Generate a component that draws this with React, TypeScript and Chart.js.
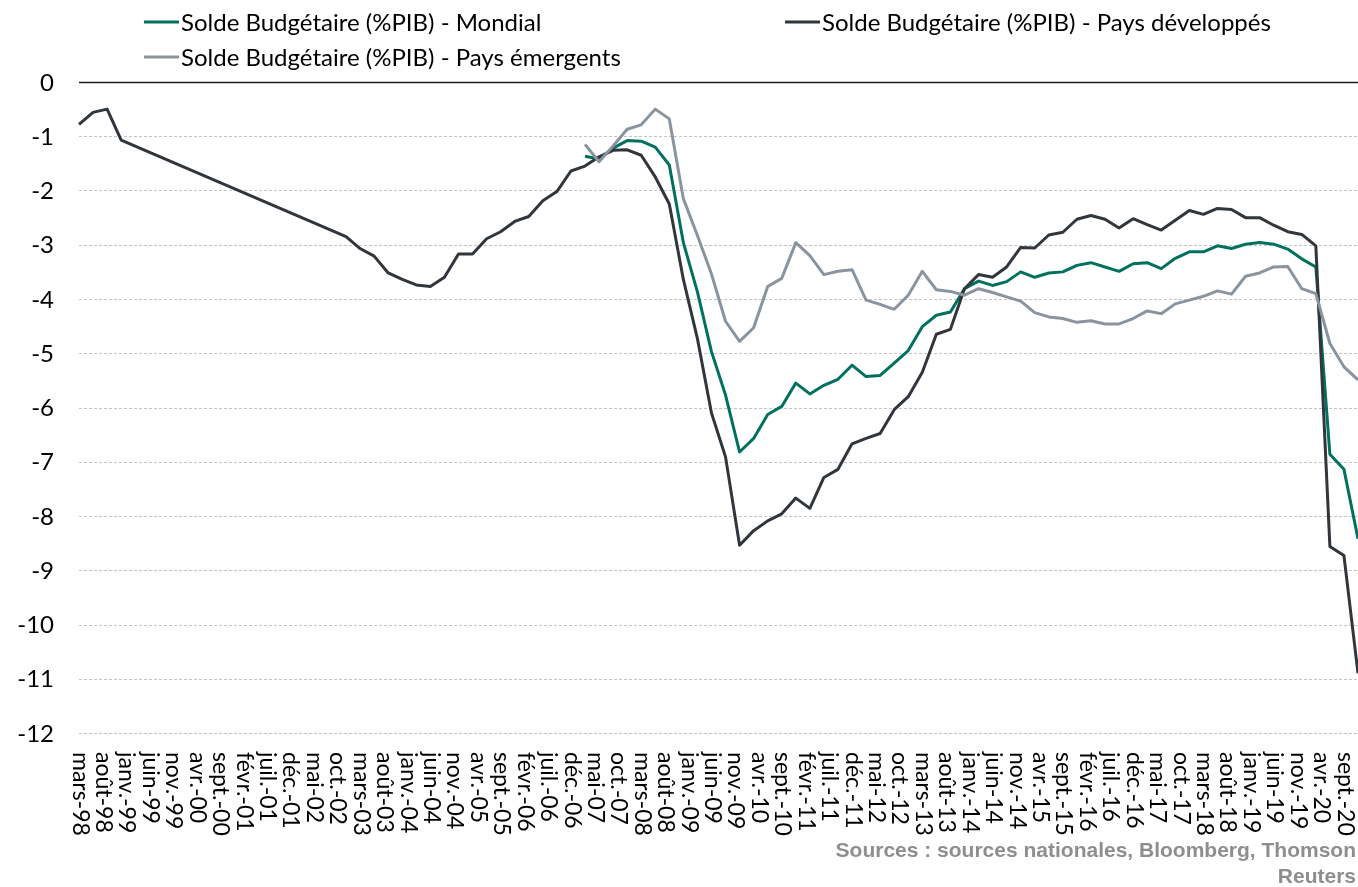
import React, { useEffect, useRef } from "react";
import { Chart, registerables } from "chart.js";

Chart.register(...registerables);

// French month abbreviations used for the monthly category axis (mars-98 .. déc.-20)
const MONTHS_FR = ["janv.", "févr.", "mars", "avr.", "mai", "juin", "juil.", "août", "sept.", "oct.", "nov.", "déc."];
const FIRST_YEAR = 1998;
const FIRST_MONTH = 2; // mars
const LAST_YEAR = 2020;
const LAST_MONTH = 11; // déc.

// Tick labels shown on the x axis (every 5 months)
const xTickLabels = [
  "mars-98", "août-98", "janv.-99", "juin-99", "nov.-99", "avr.-00", "sept.-00", "févr.-01", "juil.-01", "déc.-01",
  "mai-02", "oct.-02", "mars-03", "août-03", "janv.-04", "juin-04", "nov.-04", "avr.-05", "sept.-05", "févr.-06",
  "juil.-06", "déc.-06", "mai-07", "oct.-07", "mars-08", "août-08", "janv.-09", "juin-09", "nov.-09", "avr.-10",
  "sept.-10", "févr.-11", "juil.-11", "déc.-11", "mai-12", "oct.-12", "mars-13", "août-13", "janv.-14", "juin-14",
  "nov.-14", "avr.-15", "sept.-15", "févr.-16", "juil.-16", "déc.-16", "mai-17", "oct.-17", "mars-18", "août-18",
  "janv.-19", "juin-19", "nov.-19", "avr.-20", "sept.-20",
];

const yTicks = [0, -1, -2, -3, -4, -5, -6, -7, -8, -9, -10, -11, -12];

const seriesNames = [
  "Solde Budgétaire (%PIB) - Mondial",
  "Solde Budgétaire (%PIB) - Pays développés",
  "Solde Budgétaire (%PIB) - Pays émergents",
];
const seriesColors = ["#00705F", "#30363C", "#8A949E"];

// Quarterly values (quarter 0 = mars-98, quarter 91 = déc.-20)
const developpes: (number | null)[] = [
  -0.78, -0.56, -0.5, -1.07,
  null, null, null, null, null, null, null, null, null, null, null, null, null, null, null,
  -2.85, -3.07, -3.21, -3.52, -3.64, -3.74, -3.77, -3.6, -3.17, -3.17,
  -2.89, -2.76, -2.57, -2.48, -2.19, -2.02, -1.64, -1.55, -1.38, -1.26,
  -1.25, -1.35, -1.75, -2.25, -3.64, -4.73, -6.1, -6.91, -8.54, -8.27,
  -8.09, -7.96, -7.67, -7.86, -7.29, -7.14, -6.67, -6.57, -6.48, -6.04,
  -5.8, -5.35, -4.65, -4.56, -3.81, -3.55, -3.6, -3.41, -3.05, -3.06,
  -2.82, -2.77, -2.53, -2.46, -2.53, -2.69, -2.52, -2.63, -2.73, -2.55,
  -2.37, -2.44, -2.33, -2.35, -2.5, -2.5, -2.64, -2.76, -2.81, -3.02,
  -8.56, -8.73, -10.9,
];

// Mondial and émergents start in mars-07 (quarter 36)
const MONDIAL_START_Q = 36;
const mondial: number[] = [
  -1.37, -1.42, -1.22, -1.08, -1.09, -1.2, -1.53, -2.96, -3.87, -4.97,
  -5.77, -6.82, -6.57, -6.13, -5.98, -5.55, -5.75, -5.59, -5.48, -5.22,
  -5.43, -5.41, -5.18, -4.95, -4.51, -4.3, -4.24, -3.81, -3.67, -3.75,
  -3.68, -3.5, -3.6, -3.52, -3.5, -3.38, -3.33, -3.41, -3.49, -3.35,
  -3.33, -3.44, -3.25, -3.13, -3.13, -3.02, -3.07, -2.99, -2.96, -2.99,
  -3.08, -3.26, -3.41, -6.86, -7.14, -8.42,
];

const EMERGENTS_START_Q = 36;
const emergents: number[] = [
  -1.15, -1.47, -1.18, -0.87, -0.79, -0.5, -0.68, -2.15, -2.83, -3.54,
  -4.41, -4.78, -4.53, -3.77, -3.62, -2.96, -3.2, -3.55, -3.49, -3.46,
  -4.02, -4.1, -4.19, -3.93, -3.49, -3.83, -3.86, -3.93, -3.81, -3.88,
  -3.96, -4.04, -4.25, -4.33, -4.36, -4.43, -4.4, -4.46, -4.46, -4.36,
  -4.22, -4.27, -4.09, -4.02, -3.95, -3.85, -3.91, -3.58, -3.52, -3.41,
  -3.4, -3.81, -3.9, -4.82, -5.25, -5.49,
];

const sourceLines = ["Sources : sources nationales, Bloomberg, Thomson", "Reuters"];

// ---- derived structures for Chart.js ----
const categories: string[] = [];
for (let y = FIRST_YEAR, m = FIRST_MONTH; y < LAST_YEAR || (y === LAST_YEAR && m <= LAST_MONTH); ) {
  categories.push(`${MONTHS_FR[m]}-${String(y % 100).padStart(2, "0")}`);
  m++;
  if (m > 11) { m = 0; y++; }
}

function toMonthly(values: (number | null)[], startQ: number): (number | null)[] {
  return categories.map((_, i) => {
    if (i % 3 !== 0) return null;
    const k = i / 3 - startQ;
    const v = values[k];
    return v === undefined ? null : v;
  });
}

const TEXT_FONT = "Lato, 'Noto Sans', sans-serif";

const decorPlugin = {
  id: "decor",
  beforeDatasetsDraw(chart: any) {
    const { ctx, chartArea, scales } = chart;
    const y = scales.y;
    ctx.save();
    for (const v of yTicks) {
      const py = Math.round(y.getPixelForValue(v)) + 0.5;
      ctx.beginPath();
      if (v === 0) {
        ctx.setLineDash([]);
        ctx.strokeStyle = "#1e1e1e";
        ctx.lineWidth = 1.5;
      } else {
        ctx.setLineDash([3, 2]);
        ctx.strokeStyle = "#c4c4c4";
        ctx.lineWidth = 1;
      }
      ctx.moveTo(chartArea.left, py);
      ctx.lineTo(chartArea.right, py);
      ctx.stroke();
    }
    ctx.restore();
  },
  afterDraw(chart: any) {
    const { ctx, chartArea, scales } = chart;
    const x = scales.x;
    const y = scales.y;
    ctx.save();
    // y labels
    ctx.fillStyle = "#000";
    ctx.font = `24px ${TEXT_FONT}`;
    ctx.textAlign = "right";
    ctx.textBaseline = "middle";
    for (const v of yTicks) {
      ctx.fillText(String(v), 54, y.getPixelForValue(v) + 1);
    }
    // x labels, rotated clockwise
    ctx.font = `23px ${TEXT_FONT}`;
    ctx.textAlign = "left";
    ctx.textBaseline = "middle";
    for (const lab of xTickLabels) {
      const idx = categories.indexOf(lab);
      if (idx < 0) continue;
      const px = x.getPixelForValue(idx);
      ctx.save();
      ctx.translate(px + 1, chartArea.bottom + 19);
      ctx.rotate(Math.PI / 2);
      ctx.fillText(lab, 0, 0);
      ctx.restore();
    }
    // legend
    const legendItems = [
      { i: 0, x: 144, y: 22 },
      { i: 1, x: 785, y: 22 },
      { i: 2, x: 144, y: 57 },
    ];
    ctx.font = `24px ${TEXT_FONT}`;
    ctx.textAlign = "left";
    for (const it of legendItems) {
      ctx.beginPath();
      ctx.strokeStyle = seriesColors[it.i];
      ctx.lineWidth = 3;
      ctx.moveTo(it.x, it.y);
      ctx.lineTo(it.x + 35, it.y);
      ctx.stroke();
      ctx.fillStyle = "#000";
      ctx.fillText(seriesNames[it.i], it.x + 37, it.y + 1);
    }
    // sources
    ctx.fillStyle = "#8e8e8e";
    ctx.font = `bold 21px 'Liberation Sans', Arial, sans-serif`;
    ctx.textAlign = "right";
    ctx.fillText(sourceLines[0], 1356, 851);
    ctx.fillText(sourceLines[1], 1356, 877);
    ctx.restore();
  },
};

export default function App() {
  const ref = useRef<HTMLCanvasElement>(null);
  useEffect(() => {
    if (!ref.current) return;
    const chart = new Chart(ref.current, {
      type: "line",
      data: {
        labels: categories,
        datasets: [
          {
            label: seriesNames[0],
            data: toMonthly(mondial, MONDIAL_START_Q),
            borderColor: seriesColors[0],
            order: 2,
          },
          {
            label: seriesNames[1],
            data: toMonthly(developpes, 0),
            borderColor: seriesColors[1],
            order: 1,
          },
          {
            label: seriesNames[2],
            data: toMonthly(emergents, EMERGENTS_START_Q),
            borderColor: seriesColors[2],
            order: 0,
          },
        ],
      },
      options: {
        responsive: false,
        animation: false,
        spanGaps: true,
        layout: { padding: { left: 79, right: 0, top: 82, bottom: 154 } },
        elements: {
          point: { radius: 0, hoverRadius: 0 },
          line: { borderWidth: 3, tension: 0, borderJoinStyle: "round", borderCapStyle: "butt" },
        },
        plugins: { legend: { display: false }, tooltip: { enabled: false } },
        scales: {
          x: { type: "category", display: false, offset: false },
          y: { type: "linear", display: false, min: -12, max: 0 },
        },
      },
      plugins: [decorPlugin],
    });
    return () => chart.destroy();
  }, []);
  return (
    <div style={{ position: "absolute", left: 0, top: 0, width: 1358, height: 887, background: "#fff" }}>
      <canvas ref={ref} width={1358} height={887} style={{ display: "block", width: 1358, height: 887 }} />
    </div>
  );
}
